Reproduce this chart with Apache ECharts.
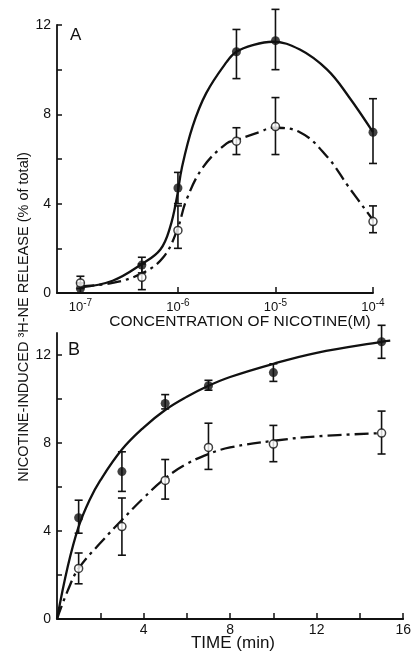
<!DOCTYPE html>
<html><head><meta charset="utf-8">
<script src="https://cdn.jsdelivr.net/npm/echarts@6/dist/echarts.min.js"></script>
<style>html,body{margin:0;padding:0;background:#fff}#c{width:414px;height:652px}</style>
</head><body><div id="c"></div>
<script>
// ---------- Panel A : concentration response (x = log10 of nicotine concentration, M) ----------
const logConcA   = [-7, -6.37, -6, -5.4, -5, -4];
const filledA    = [0.2, 1.25, 4.7, 10.8, 11.3, 7.2];
const filledAHi  = [0.45, 1.6, 5.4, 11.8, 12.7, 8.7];
const filledALo  = [0.0, 0.9, 4.0, 9.6, 10.0, 5.8];
const openA      = [0.45, 0.7, 2.8, 6.8, 7.45, 3.2];
const openAHi    = [0.75, 1.3, 3.9, 7.4, 8.75, 3.9];
const openALo    = [0.2, 0.15, 2.0, 6.2, 6.2, 2.7];
// drawn curves
const curveASolidX = [-7, -6.67, -6.37, -6.18, -6.08, -6.01, -5.96, -5.85, -5.71, -5.5, -5.4, -5.23, -5.03, -4.75, -4.47, -4.25, -4];
const curveASolidY = [0.25, 0.55, 1.3, 1.95, 2.95, 4.3, 5.6, 7.45, 8.95, 10.35, 10.8, 11.1, 11.25, 10.9, 10.0, 8.8, 7.2];
const curveADashX  = [-7, -6.67, -6.36, -6.15, -6.01, -5.91, -5.74, -5.5, -5.4, -5.17, -5.02, -4.75, -4.47, -4.25, -4];
const curveADashY  = [0.3, 0.45, 0.9, 1.6, 2.8, 4.2, 5.65, 6.7, 6.85, 7.2, 7.4, 7.2, 6.1, 4.75, 3.27];
const tickLabelsA  = [-7, -6, -5, -4];

// ---------- Panel B : time course ----------
const timeB      = [1, 3, 5, 7, 10, 15];
const filledB    = [4.6, 6.7, 9.8, 10.6, 11.2, 12.6];
const filledBHi  = [5.4, 7.6, 10.2, 10.85, 11.6, 13.35];
const filledBLo  = [3.9, 5.8, 9.55, 10.4, 10.8, 11.85];
const openB      = [2.3, 4.2, 6.3, 7.8, 7.95, 8.45];
const openBHi    = [3.0, 5.5, 7.25, 8.9, 8.8, 9.45];
const openBLo    = [1.6, 2.9, 5.45, 6.8, 7.15, 7.5];
const curveBSolidX = [0, 0.5, 1, 1.5, 2, 3, 4, 5, 6, 7, 8, 10, 12, 15, 15.4];
const curveBSolidY = [0, 2.4, 4.2, 5.4, 6.3, 7.7, 8.7, 9.5, 10.1, 10.6, 11.0, 11.6, 12.1, 12.6, 12.65];
const curveBDashX  = [0, 0.5, 1, 2, 3, 4, 5, 6, 7, 8, 10, 12, 15];
const curveBDashY  = [0, 1.3, 2.3, 3.45, 4.5, 5.5, 6.4, 7.05, 7.5, 7.8, 8.1, 8.3, 8.45];
const tickLabelsBX = [4, 8, 12, 16];
const tickLabelsY  = [0, 4, 8, 12];

const FONT = 'Liberation Sans';
const INK = '#111';

const zip = (a, b) => a.map((v, i) => [v, b[i]]);
const zip3 = (a, b, c) => a.map((v, i) => [v, b[i], c[i]]);

function errSeries(xi, yi, x, lo, hi) {
  return {
    type: 'custom', xAxisIndex: xi, yAxisIndex: yi, z: 3, silent: true,
    encode: { x: 0, y: [1, 2] },
    data: zip3(x, lo, hi),
    renderItem: function (params, api) {
      const xv = api.value(0);
      const p1 = api.coord([xv, api.value(1)]);
      const p2 = api.coord([xv, api.value(2)]);
      const st = { stroke: INK, lineWidth: 1.6 };
      const w = 4;
      return { type: 'group', children: [
        { type: 'line', shape: { x1: p1[0], y1: p1[1], x2: p2[0], y2: p2[1] }, style: st },
        { type: 'line', shape: { x1: p1[0] - w, y1: p1[1], x2: p1[0] + w, y2: p1[1] }, style: st },
        { type: 'line', shape: { x1: p2[0] - w, y1: p2[1], x2: p2[0] + w, y2: p2[1] }, style: st }
      ]};
    }
  };
}
function curve(xi, yi, x, y, dashed) {
  return {
    type: 'line', xAxisIndex: xi, yAxisIndex: yi, z: 2, silent: true,
    showSymbol: false, symbol: 'none', smooth: 0.4,
    data: zip(x, y),
    lineStyle: { color: INK, width: 2.3, type: dashed ? [14, 5, 3, 5] : 'solid' }
  };
}
function pts(xi, yi, x, y, open) {
  return {
    type: 'scatter', xAxisIndex: xi, yAxisIndex: yi, z: 5, silent: true,
    symbol: 'circle', symbolSize: open ? 8 : 9,
    data: zip(x, y),
    itemStyle: open ? { color: '#fff', borderColor: INK, borderWidth: 1.5 } : { color: INK }
  };
}
const axisLine = { show: true, onZero: false, lineStyle: { color: INK, width: 1.8 } };
const tickStyle = { show: true, inside: true, length: 5, lineStyle: { color: INK, width: 1.5 } };
const lbl = { color: INK, fontFamily: FONT, fontSize: 14 };

const chart = echarts.init(document.getElementById('c'), null, { renderer: 'canvas' });
chart.setOption({
  animation: false,
  backgroundColor: '#fff',
  grid: [
    { left: 57, top: 25, width: 316, height: 268 },
    { left: 57, top: 333, width: 349, height: 286 }
  ],
  xAxis: [
    { type: 'value', gridIndex: 0, min: -7.24, max: -4,
      axisLine, splitLine: { show: false },
      axisTick: Object.assign({}, tickStyle, { length: 6, customValues: [-6, -5, -4] }),
      axisLabel: { customValues: tickLabelsA, margin: 5, color: INK, fontFamily: FONT, fontSize: 13,
        formatter: v => '10{s|' + Math.round(v) + '}',
        rich: { s: { fontSize: 10, fontFamily: FONT, color: INK, verticalAlign: 'top', padding: [0, 0, 8, 0] } } } },
    { type: 'value', gridIndex: 1, min: 0, max: 16,
      axisLine, splitLine: { show: false },
      axisTick: Object.assign({}, tickStyle, { length: 6, customValues: [2, 4, 6, 8, 10, 12, 14, 16] }),
      axisLabel: Object.assign({ customValues: tickLabelsBX, margin: 4 }, lbl) }
  ],
  yAxis: [
    { type: 'value', gridIndex: 0, min: 0, max: 12,
      axisLine, splitLine: { show: false },
      axisTick: Object.assign({}, tickStyle, { customValues: [2, 4, 6, 8, 10, 12] }),
      axisLabel: Object.assign({ customValues: tickLabelsY, margin: 6 }, lbl) },
    { type: 'value', gridIndex: 1, min: 0, max: 13,
      axisLine, splitLine: { show: false },
      axisTick: Object.assign({}, tickStyle, { customValues: [2, 4, 6, 8, 10, 12] }),
      axisLabel: Object.assign({ customValues: tickLabelsY, margin: 6 }, lbl) }
  ],
  series: [
    curve(0, 0, curveASolidX, curveASolidY, false),
    curve(0, 0, curveADashX, curveADashY, true),
    errSeries(0, 0, logConcA, filledALo, filledAHi),
    errSeries(0, 0, logConcA, openALo, openAHi),
    pts(0, 0, logConcA, filledA, false),
    pts(0, 0, logConcA, openA, true),
    curve(1, 1, curveBSolidX, curveBSolidY, false),
    curve(1, 1, curveBDashX, curveBDashY, true),
    errSeries(1, 1, timeB, filledBLo, filledBHi),
    errSeries(1, 1, timeB, openBLo, openBHi),
    pts(1, 1, timeB, filledB, false),
    pts(1, 1, timeB, openB, true)
  ],
  graphic: [
    { type: 'text', x: 70, y: 27, style: { text: 'A', fill: INK, font: '17px "Liberation Sans"' } },
    { type: 'text', x: 68, y: 341, style: { text: 'B', fill: INK, font: '18px "Liberation Sans"' } },
    { type: 'text', x: 240, y: 322, style: { text: 'CONCENTRATION OF NICOTINE(M)', fill: INK,
        font: '15.5px "Liberation Sans"', align: 'center', verticalAlign: 'middle' } },
    { type: 'text', x: 233, y: 643, style: { text: 'TIME (min)', fill: INK,
        font: '17px "Liberation Sans"', align: 'center', verticalAlign: 'middle' } },
    { type: 'text', x: 24, y: 317, rotation: Math.PI / 2, style: { text: 'NICOTINE-INDUCED ³H-NE RELEASE (% of total)', fill: INK,
        font: '14.5px "Liberation Sans"', align: 'center', verticalAlign: 'middle' } }
  ]
});
</script></body></html>
